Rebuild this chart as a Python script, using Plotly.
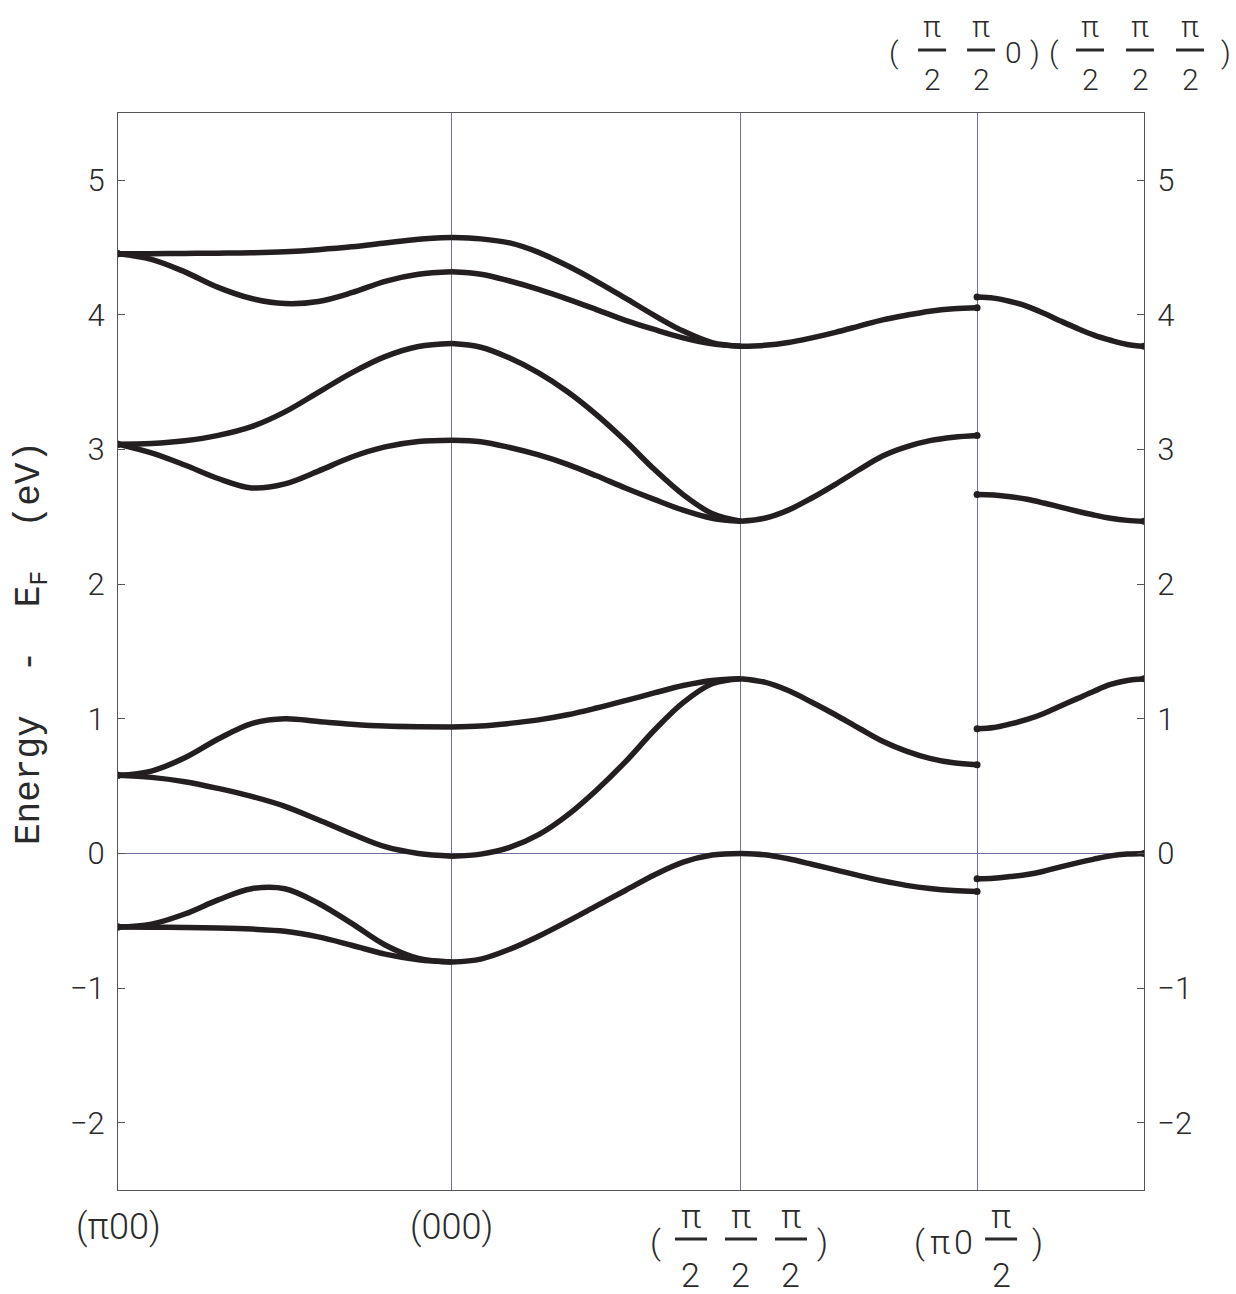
import math
import plotly.graph_objects as go

# ---- k-path (units of pi) ----
K0 = 0.0
K1 = 1.0                          # (000)
K2 = K1 + math.sqrt(3) / 2        # (pi/2 pi/2 pi/2)
K3 = K2 + math.sqrt(2) / 2        # (pi 0 pi/2) | (pi/2 pi/2 0)
K4 = K3 + 0.5                     # (pi/2 pi/2 pi/2)

# fractional positions along each path segment where energies were read
t_frac = [0.0, 0.1, 0.2, 0.3, 0.4, 0.5, 0.6, 0.7, 0.8, 0.9, 1.0]

# ---- band energies (eV) ----
# segment 1: (pi00) -> (000)
s1_A = [4.455, 4.455, 4.457, 4.459, 4.462, 4.47, 4.485, 4.506, 4.535, 4.563, 4.575]
s1_B = [4.455, 4.413, 4.32, 4.205, 4.122, 4.085, 4.1, 4.165, 4.25, 4.302, 4.32]
s1_C = [3.04, 3.045, 3.065, 3.105, 3.17, 3.28, 3.425, 3.57, 3.69, 3.765, 3.787]
s1_D = [3.04, 2.975, 2.885, 2.785, 2.715, 2.745, 2.84, 2.945, 3.02, 3.06, 3.07]
s1_E = [0.58, 0.612, 0.71, 0.85, 0.965, 1.0, 0.98, 0.96, 0.946, 0.941, 0.94]
s1_F = [0.58, 0.565, 0.533, 0.483, 0.424, 0.35, 0.25, 0.145, 0.05, 0.0, -0.02]
s1_G = [-0.547, -0.525, -0.45, -0.345, -0.262, -0.262, -0.37, -0.52, -0.68, -0.78, -0.807]
s1_H = [-0.547, -0.548, -0.55, -0.554, -0.562, -0.578, -0.62, -0.682, -0.748, -0.79, -0.807]

# segment 2: (000) -> (pi/2 pi/2 pi/2)
s2_A = [4.575, 4.565, 4.535, 4.465, 4.365, 4.25, 4.125, 3.997, 3.88, 3.795, 3.767]
s2_B = [4.32, 4.302, 4.252, 4.19, 4.118, 4.04, 3.96, 3.892, 3.83, 3.785, 3.767]
s2_C = [3.787, 3.76, 3.68, 3.57, 3.43, 3.26, 3.065, 2.853, 2.665, 2.525, 2.467]
s2_D = [3.07, 3.058, 3.015, 2.96, 2.89, 2.805, 2.715, 2.63, 2.55, 2.49, 2.467]
s2_E = [0.94, 0.946, 0.966, 0.992, 1.03, 1.08, 1.135, 1.192, 1.247, 1.285, 1.298]
s2_F = [-0.02, -0.005, 0.045, 0.14, 0.285, 0.47, 0.68, 0.915, 1.12, 1.26, 1.298]
s2_GH = [-0.807, -0.785, -0.712, -0.615, -0.505, -0.39, -0.275, -0.16, -0.065, -0.012, 0.0]

# segment 3: (pi/2 pi/2 pi/2) -> (pi 0 pi/2)
s3_AB = [3.767, 3.774, 3.795, 3.83, 3.871, 3.917, 3.963, 3.998, 4.028, 4.046, 4.054]
s3_CD = [2.467, 2.49, 2.55, 2.64, 2.742, 2.85, 2.952, 3.02, 3.066, 3.092, 3.105]
s3_EF = [1.298, 1.272, 1.21, 1.123, 1.03, 0.93, 0.833, 0.76, 0.706, 0.673, 0.659]
s3_GH = [0.0, -0.01, -0.04, -0.08, -0.122, -0.165, -0.204, -0.237, -0.261, -0.276, -0.282]

# segment 4: (pi/2 pi/2 0) -> (pi/2 pi/2 pi/2)
s4_1 = [4.133, 4.125, 4.1, 4.064, 4.012, 3.955, 3.9, 3.85, 3.812, 3.781, 3.767]
s4_2 = [2.667, 2.663, 2.65, 2.631, 2.603, 2.572, 2.542, 2.514, 2.49, 2.474, 2.467]
s4_3 = [0.926, 0.935, 0.962, 0.995, 1.04, 1.095, 1.15, 1.205, 1.255, 1.285, 1.298]
s4_4 = [-0.188, -0.184, -0.172, -0.157, -0.132, -0.1, -0.07, -0.042, -0.018, -0.005, 0.0]

y_ticks = [-2, -1, 0, 1, 2, 3, 4, 5]

segments = [
    (K0, K1, [s1_A, s1_B, s1_C, s1_D, s1_E, s1_F, s1_G, s1_H]),
    (K1, K2, [s2_A, s2_B, s2_C, s2_D, s2_E, s2_F, s2_GH]),
    (K2, K3, [s3_AB, s3_CD, s3_EF, s3_GH]),
    (K3, K4, [s4_1, s4_2, s4_3, s4_4]),
]

LINE = "#231f20"
GRID = "#7070a0"
fig = go.Figure()

end_x, end_y = [], []
for ka, kb, bands in segments:
    xs = [ka + (kb - ka) * v for v in t_frac]
    for e in bands:
        fig.add_trace(go.Scatter(x=xs, y=e, mode="lines",
                                 line=dict(color=LINE, width=5.5, shape="spline", smoothing=1),
                                 hoverinfo="skip"))
        if ka in (K0, K3):
            end_x.append(xs[0]); end_y.append(e[0])
        if kb in (K3, K4):
            end_x.append(xs[-1]); end_y.append(e[-1])

fig.add_trace(go.Scatter(x=end_x, y=end_y, mode="markers",
                         marker=dict(color=LINE, size=7), hoverinfo="skip"))
fig.add_trace(go.Scatter(x=[K4], y=[0], yaxis="y2", mode="markers",
                         marker=dict(size=1, opacity=0), hoverinfo="skip"))

W, H = 1236, 1294
L, R, T, B = 118, 92, 113, 104
PW, PH = W - L - R, H - T - B

TXT = "#2a2a2a"
tickfont = dict(family="Roboto", size=31, color=TXT, weight=300)
axis_y = dict(range=[-2.5, 5.5], tickvals=y_ticks, ticks="inside", ticklen=7,
              tickcolor="#555", showline=True, linecolor="#555", linewidth=1,
              showgrid=False, tickfont=tickfont, ticklabelstandoff=6)

fig.update_layout(
    width=W, height=H, margin=dict(l=L, r=R, t=T, b=B),
    plot_bgcolor="white", paper_bgcolor="white", showlegend=False,
    xaxis=dict(range=[K0, K4], tickvals=[K1, K2, K3], showticklabels=False, ticks="",
               showgrid=True, gridcolor=GRID, gridwidth=1,
               showline=True, linecolor="#555", linewidth=1, mirror=True, zeroline=False),
    yaxis=dict(**axis_y, zeroline=True, zerolinecolor=GRID, zerolinewidth=1, side="left"),
    yaxis2=dict(**axis_y, zeroline=False, overlaying="y", side="right"),
)

# ---- labels ----
def kpx(k):
    return L + PW * (k - K0) / (K4 - K0)

def xp(px):
    return (px - L) / PW

def yp(py):
    return (T + PH - py) / PH

ann = []
shapes = []

def txt(s, px, py, size):
    ann.append(dict(text=s, x=xp(px), y=yp(py), xref="paper", yref="paper",
                    xanchor="center", yanchor="middle", showarrow=False,
                    font=dict(family="Roboto", size=size, color=TXT, weight=300)))

def frac(px, py_bar, size, dnum, dden, barw):
    txt("π", px, py_bar - dnum, size)
    txt("2", px, py_bar + dden, size)
    shapes.append(dict(type="line", xref="paper", yref="paper",
                       x0=xp(px - barw / 2), x1=xp(px + barw / 2),
                       y0=yp(py_bar), y1=yp(py_bar),
                       line=dict(color=TXT, width=3)))

BS = 34   # bottom label font size
txt("(π00)", kpx(K0), 1227, BS + 2)
txt("(000)", kpx(K1), 1227, BS + 2)
c = kpx(K2)
txt("(", c - 85, 1242, BS)
for off in (-50, 0, 50):
    frac(c + off, 1239, BS, 23, 36, 32)
txt(")", c + 82, 1242, BS)
c = kpx(K3)
txt("(", c - 58, 1242, BS)
txt("π", c - 37, 1242, BS)
txt("0", c - 14, 1242, BS)
frac(c + 24, 1239, BS, 23, 36, 32)
txt(")", c + 60, 1242, BS)

TS = 30   # top label font size
c = kpx(K3)
txt("(", c - 83, 52, TS)
frac(c - 45, 50, TS, 24, 29, 28)
frac(c + 4, 50, TS, 24, 29, 28)
txt("0", c + 36, 52, TS)
txt(")", c + 58, 52, TS)
c = kpx(K4)
txt("(", c - 90, 52, TS)
for off in (-54, -4, 46):
    frac(c + off, 50, TS, 24, 29, 28)
txt(")", c + 82, 52, TS)

# y-axis title
ann.append(dict(text="Energy  -  E<sub>F</sub>  (eV)", x=xp(32), y=yp(643),
                xref="paper", yref="paper", xanchor="center", yanchor="middle",
                textangle=-90, showarrow=False,
                font=dict(family="Liberation Mono", size=36, color=TXT)))

fig.update_layout(annotations=ann, shapes=shapes)

fig.write_html("out.html", config={"displayModeBar": False},
               post_script="document.body.style.margin='0';")
